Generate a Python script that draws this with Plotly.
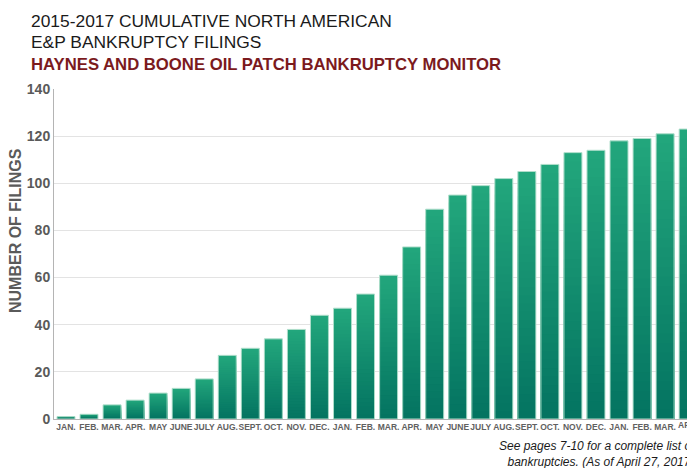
import plotly.graph_objects as go

months = ["JAN.", "FEB.", "MAR.", "APR.", "MAY", "JUNE", "JULY", "AUG.", "SEPT.", "OCT.", "NOV.", "DEC.",
          "JAN.", "FEB.", "MAR.", "APR.", "MAY", "JUNE", "JULY", "AUG.", "SEPT.", "OCT.", "NOV.", "DEC.",
          "JAN.", "FEB.", "MAR.", "APR."]
filings = [1, 2, 6, 8, 11, 13, 17, 27, 30, 34, 38, 44,
           47, 53, 61, 73, 89, 95, 99, 102, 105, 108, 113, 114,
           118, 119, 121, 123]
y_ticks = [0, 20, 40, 60, 80, 100, 120, 140]

W, H = 687, 468
ML, MR, MT, MB = 54, 0, 89, 49
PW, PH = W - ML - MR, H - MT - MB

def px(x):
    return (x - ML) / PW

def py(y):
    return (H - MB - y) / PH

xi = list(range(len(filings)))
xr = [-0.52, 26.95]

top = (34, 166, 124)
bot = (4, 116, 97)
N = 30
fig = go.Figure()
for k in range(N):
    t = k / (N - 1)
    c = tuple(round(top[i] + (bot[i] - top[i]) * t) for i in range(3))
    frac = (N - k) / N
    fig.add_trace(go.Bar(x=xi, y=[v * frac for v in filings], width=0.78,
                         marker=dict(color="rgb(%d,%d,%d)" % c, line=dict(width=0)),
                         hoverinfo="skip"))
fig.add_trace(go.Bar(x=xi, y=filings, width=0.78,
                     marker=dict(color="rgba(0,0,0,0)", line=dict(color="rgba(175,222,203,1)", width=1))))

fig.update_layout(
    width=W, height=H, margin=dict(l=ML, r=MR, t=MT, b=MB, pad=0),
    barmode="overlay", showlegend=False,
    plot_bgcolor="white", paper_bgcolor="white",
    font=dict(family="Liberation Sans, Arial, sans-serif"),
)
fig.update_xaxes(range=xr, tickmode="array", tickvals=xi, ticktext=months,
                 tickfont=dict(size=8.5, color="#616161", family="Liberation Sans, Arial, sans-serif", weight="bold"),
                 showgrid=False, showline=True, linecolor="#b4b4b4", linewidth=1, ticks="", tickangle=0,
                 zeroline=False)
fig.update_yaxes(range=[0, 140], tickvals=y_ticks,
                 tickfont=dict(size=14, color="#5a5a5a", family="Liberation Sans, Arial, sans-serif", weight="bold"),
                 showgrid=True, gridcolor="#e3e3e3", gridwidth=1, showline=True, linecolor="#b4b4b4",
                 linewidth=1, ticks="", zeroline=False)

anns = []
# partial last tick label at the cropped right edge
last = len(months) - 1
anns.append(dict(text=months[last], xref="paper", yref="paper",
                 x=(last - xr[0]) / (xr[1] - xr[0]), y=py(425), xanchor="center", yanchor="middle",
                 showarrow=False, font=dict(size=8.5, color="#616161", weight="bold")))
anns.append(dict(text="2015-2017 CUMULATIVE NORTH AMERICAN", xref="paper", yref="paper",
                 x=px(29), y=py(21), xanchor="left", yanchor="middle", showarrow=False,
                 font=dict(size=17.4, color="#1a1a1a")))
anns.append(dict(text="E&P BANKRUPTCY FILINGS", xref="paper", yref="paper",
                 x=px(29), y=py(42), xanchor="left", yanchor="middle", showarrow=False,
                 font=dict(size=17.4, color="#1a1a1a")))
anns.append(dict(text="HAYNES AND BOONE OIL PATCH BANKRUPTCY MONITOR", xref="paper", yref="paper",
                 x=px(29), y=py(64), xanchor="left", yanchor="middle", showarrow=False,
                 font=dict(size=16.7, color="#7b1a1d", weight="bold")))
anns.append(dict(text="NUMBER OF FILINGS", xref="paper", yref="paper", textangle=-90,
                 x=px(15), y=py(231), xanchor="center", yanchor="middle", showarrow=False,
                 font=dict(size=16, color="#5a5a5a", weight="bold")))
anns.append(dict(text="<i>See pages 7-10 for a complete list of<br>bankruptcies. (As of April 27, 2017)</i>",
                 xref="paper", yref="paper", x=px(698), y=py(454), xanchor="right", yanchor="middle",
                 align="right", showarrow=False, font=dict(size=12, color="#1a1a1a")))
fig.update_layout(annotations=anns)

fig.write_html("out.html")
